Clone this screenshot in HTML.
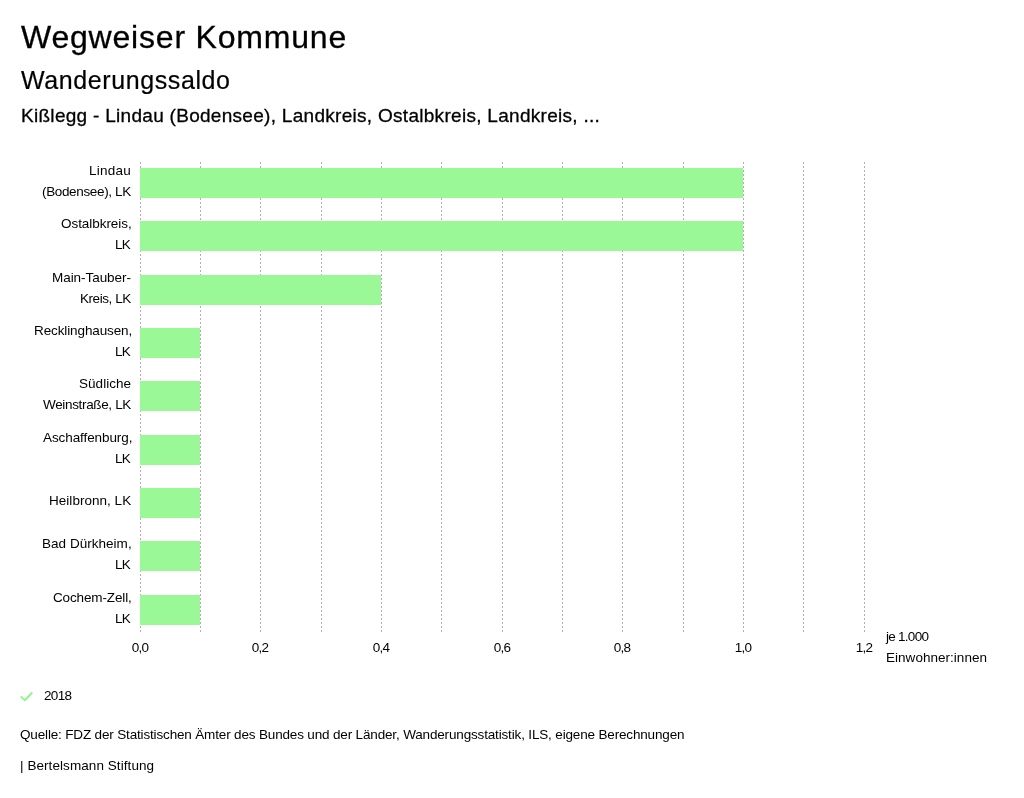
<!DOCTYPE html>
<html lang="de"><head><meta charset="utf-8"><title>Wegweiser Kommune</title>
<style>
html,body{margin:0;padding:0;background:#fff}
body{width:1024px;height:798px;position:relative;overflow:hidden;font-family:"Liberation Sans",sans-serif;color:#000}
.t{position:absolute;margin:0;padding:0;white-space:nowrap;line-height:1;font-weight:normal;will-change:transform}
#h1{left:21px;top:21px;font-size:32px;letter-spacing:0.8px;-webkit-text-stroke:0.3px #000}
#h2{left:21px;top:68px;font-size:25px;letter-spacing:0.6px;-webkit-text-stroke:0.2px #000}
#h3{left:21px;top:106px;font-size:19px;letter-spacing:0.29px;-webkit-text-stroke:0.3px #000}
.lab{font-size:13.5px;line-height:15px;color:#000;text-align:right}
.ax{font-size:13.5px;line-height:15px;color:#000;text-align:center;width:40px}
.ft{font-size:13.5px;line-height:15px;color:#000}
svg{position:absolute;left:0;top:0}
</style></head><body>
<h1 class="t" id="h1">Wegweiser Kommune</h1>
<h2 class="t" id="h2">Wanderungssaldo</h2>
<h3 class="t" id="h3">Kißlegg - Lindau (Bodensee), Landkreis, Ostalbkreis, Landkreis, ...</h3>
<svg width="1024" height="798" viewBox="0 0 1024 798">
<g stroke="#b0b0b0" stroke-width="1" stroke-dasharray="2,2" fill="none">
<path d="M140.5 162V632"/>
<path d="M200.5 162V632"/>
<path d="M260.5 162V632"/>
<path d="M321.5 162V632"/>
<path d="M381.5 162V632"/>
<path d="M441.5 162V632"/>
<path d="M502.5 162V632"/>
<path d="M562.5 162V632"/>
<path d="M622.5 162V632"/>
<path d="M683.5 162V632"/>
<path d="M743.5 162V632"/>
<path d="M803.5 162V632"/>
<path d="M864.5 162V632"/>
</g>
<g fill="#9af996">
<rect x="140" y="168" width="603" height="30"/>
<rect x="140" y="221" width="603" height="30"/>
<rect x="140" y="275" width="241" height="30"/>
<rect x="140" y="328" width="60" height="30"/>
<rect x="140" y="381" width="60" height="30"/>
<rect x="140" y="435" width="60" height="30"/>
<rect x="140" y="488" width="60" height="30"/>
<rect x="140" y="541" width="60" height="30"/>
<rect x="140" y="595" width="60" height="30"/>
</g>
<path d="M20.7 696.4L24.8 700.2L32.3 692.5" stroke="#8ff58b" stroke-width="1.9" fill="none"/>
</svg>
<div class="t lab" style="right:892.76px;top:163px;letter-spacing:0.24px">Lindau</div>
<div class="t lab" style="right:893.35px;top:184px;letter-spacing:-0.35px">(Bodensee), LK</div>
<div class="t lab" style="right:892.05px;top:216px;letter-spacing:-0.05px">Ostalbkreis,</div>
<div class="t lab" style="right:893.80px;top:237px;letter-spacing:-0.80px">LK</div>
<div class="t lab" style="right:893.05px;top:270px;letter-spacing:-0.05px">Main-Tauber-</div>
<div class="t lab" style="right:893.44px;top:291px;letter-spacing:-0.44px">Kreis, LK</div>
<div class="t lab" style="right:892.11px;top:323px;letter-spacing:-0.11px">Recklinghausen,</div>
<div class="t lab" style="right:893.80px;top:344px;letter-spacing:-0.80px">LK</div>
<div class="t lab" style="right:892.96px;top:376px;letter-spacing:0.04px">Südliche</div>
<div class="t lab" style="right:893.34px;top:397px;letter-spacing:-0.34px">Weinstraße, LK</div>
<div class="t lab" style="right:892.09px;top:430px;letter-spacing:-0.09px">Aschaffenburg,</div>
<div class="t lab" style="right:893.80px;top:451px;letter-spacing:-0.80px">LK</div>
<div class="t lab" style="right:892.97px;top:493px;letter-spacing:0.03px">Heilbronn, LK</div>
<div class="t lab" style="right:891.97px;top:536px;letter-spacing:0.03px">Bad Dürkheim,</div>
<div class="t lab" style="right:893.80px;top:557px;letter-spacing:-0.80px">LK</div>
<div class="t lab" style="right:892.13px;top:590px;letter-spacing:-0.13px">Cochem-Zell,</div>
<div class="t lab" style="right:893.80px;top:611px;letter-spacing:-0.80px">LK</div>
<div class="t ax" style="left:119.7px;top:640px;letter-spacing:-0.70px">0,0</div>
<div class="t ax" style="left:240.3px;top:640px;letter-spacing:-0.70px">0,2</div>
<div class="t ax" style="left:361.0px;top:640px;letter-spacing:-0.70px">0,4</div>
<div class="t ax" style="left:481.6px;top:640px;letter-spacing:-0.70px">0,6</div>
<div class="t ax" style="left:602.3px;top:640px;letter-spacing:-0.70px">0,8</div>
<div class="t ax" style="left:723.0px;top:640px;letter-spacing:-0.70px">1,0</div>
<div class="t ax" style="left:843.6px;top:640px;letter-spacing:-0.70px">1,2</div>
<div class="t ft" style="left:885.5px;top:629px;letter-spacing:-0.73px">je 1.000</div>
<div class="t ft" style="left:886.0px;top:650px;letter-spacing:0.03px">Einwohner:innen</div>
<div class="t ft" style="left:44.0px;top:688px;letter-spacing:-0.67px">2018</div>
<div class="t ft" style="left:20.0px;top:727px;letter-spacing:-0.16px">Quelle: FDZ der Statistischen Ämter des Bundes und der Länder, Wanderungsstatistik, ILS, eigene Berechnungen</div>
<div class="t ft" style="left:20.0px;top:758px;letter-spacing:0.07px">| Bertelsmann Stiftung</div>
</body></html>
